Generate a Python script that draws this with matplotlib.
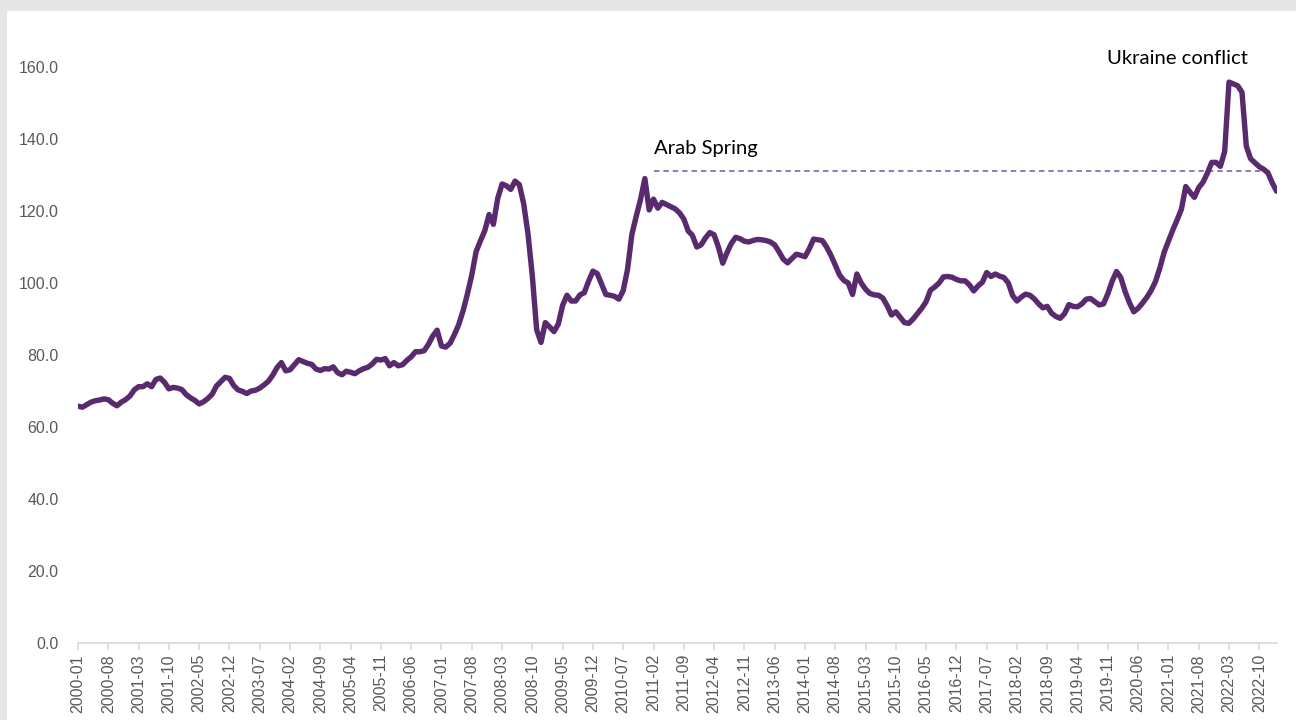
import numpy as np
import pandas as pd
import matplotlib
matplotlib.use("Agg")
import matplotlib.pyplot as plt
from matplotlib.patches import Rectangle

# monthly index values, 2000-01 .. 2023-02
y2000 = [65.8, 65.5, 66.2, 66.9, 67.3, 67.5, 67.8, 67.6, 66.6, 65.9, 66.9, 67.6]
y2001 = [68.6, 70.3, 71.2, 71.2, 72.0, 71.2, 73.2, 73.6, 72.4, 70.6, 71.0, 70.8]
y2002 = [70.4, 69.0, 68.1, 67.4, 66.4, 67.0, 67.9, 69.1, 71.4, 72.6, 73.8, 73.5]
y2003 = [71.5, 70.3, 69.9, 69.3, 70.0, 70.2, 70.8, 71.7, 72.7, 74.4, 76.5, 77.9]
y2004 = [75.6, 75.9, 77.3, 78.7, 78.2, 77.7, 77.4, 76.1, 75.7, 76.2, 76.1, 76.7]
y2005 = [75.1, 74.5, 75.5, 75.2, 74.8, 75.6, 76.2, 76.6, 77.5, 78.8, 78.6, 79.0]
y2006 = [77.0, 77.9, 77.0, 77.3, 78.5, 79.5, 80.9, 80.9, 81.2, 83.0, 85.3, 86.9]
y2007 = [82.5, 82.2, 83.3, 85.7, 88.5, 92.3, 97.0, 102.2, 108.7, 111.7, 114.5, 119.0]
y2008 = [116.3, 123.5, 127.5, 127.0, 126.0, 128.3, 127.3, 122.0, 113.6, 101.9, 87.0, 83.5]
y2009 = [89.0, 87.8, 86.5, 88.6, 93.8, 96.6, 95.0, 95.0, 96.7, 97.3, 100.5, 103.3]
y2010 = [102.6, 99.7, 96.8, 96.6, 96.3, 95.5, 97.9, 103.8, 113.5, 118.5, 123.2, 129.0]
y2011 = [120.3, 123.3, 120.8, 122.4, 121.8, 121.2, 120.6, 119.5, 117.8, 114.5, 113.2, 110.0]
y2012 = [110.6, 112.5, 114.0, 113.4, 110.0, 105.5, 108.5, 111.0, 112.7, 112.3, 111.6, 111.4]
y2013 = [111.8, 112.1, 112.0, 111.8, 111.4, 110.6, 108.7, 106.6, 105.6, 106.8, 108.0, 107.7]
y2014 = [107.3, 109.5, 112.2, 112.0, 111.8, 110.0, 107.7, 105.0, 102.2, 100.7, 100.0, 96.8]
y2015 = [102.5, 100.0, 98.3, 97.1, 96.7, 96.6, 95.8, 93.7, 91.1, 92.0, 90.5, 89.0]
y2016 = [88.8, 90.0, 91.5, 93.0, 94.8, 98.0, 98.9, 100.0, 101.7, 101.8, 101.6, 101.0]
y2017 = [100.6, 100.6, 99.5, 97.8, 99.2, 100.2, 102.9, 101.8, 102.5, 101.9, 101.5, 100.0]
y2018 = [96.5, 95.0, 96.1, 96.9, 96.6, 95.6, 94.2, 93.1, 93.5, 91.6, 90.7, 90.2]
y2019 = [91.5, 94.0, 93.5, 93.4, 94.2, 95.5, 95.7, 94.8, 93.9, 94.2, 97.0, 100.5]
y2020 = [103.2, 101.5, 97.6, 94.5, 92.0, 93.0, 94.4, 96.0, 97.9, 100.4, 104.1, 108.5]
y2021 = [111.6, 114.7, 117.5, 120.5, 126.8, 125.2, 123.8, 126.5, 128.0, 130.5, 133.5, 133.5]
y2022 = [132.4, 136.5, 155.8, 155.3, 154.8, 153.0, 138.0, 134.5, 133.4, 132.3, 131.6, 130.6]
y2023 = [127.8, 125.5]

arab_spring_level = 131.1
arab_spring_start = "2011-02"

values = (y2000 + y2001 + y2002 + y2003 + y2004 + y2005 + y2006 + y2007 + y2008
          + y2009 + y2010 + y2011 + y2012 + y2013 + y2014 + y2015 + y2016 + y2017
          + y2018 + y2019 + y2020 + y2021 + y2022 + y2023)
months = list(pd.date_range("2000-01", periods=len(values), freq="MS").strftime("%Y-%m"))
x = np.arange(len(values))

fig = plt.figure(figsize=(12.96, 7.2), dpi=100, facecolor="#e6e6e6")
fig.add_artist(Rectangle((7 / 1296, 0), 1, 709 / 720, transform=fig.transFigure,
                         facecolor="white", edgecolor="none", zorder=-5))
ax = fig.add_axes([78 / 1296, 1 - 643 / 720, (1276.6 - 78) / 1296, 612 / 720])
ax.set_zorder(2)
ax.set_facecolor("none")

ax.plot(x, values, color="#5a2a6e", linewidth=3.9, solid_joinstyle="round",
        solid_capstyle="round", zorder=3)

i0 = months.index(arab_spring_start)
ax.plot([i0, len(values) - 2], [arab_spring_level, arab_spring_level],
        color="#8c6bb8", linewidth=1.3, linestyle=(0, (3, 2.2)), zorder=2)

ax.text(i0, 137.4, "Arab Spring", fontsize=14.6, family="Lato", color="black",
        ha="left", va="center")
ax.text(237.8, 162.3, "Ukraine conflict", fontsize=14.6, family="Lato", color="black",
        ha="left", va="center", clip_on=False)

ax.set_xlim(0, len(values) - 1)
ax.set_ylim(0, 170)
ax.set_yticks(np.arange(0, 161, 20))
ax.set_yticklabels([f"{v:.1f}" for v in np.arange(0, 161, 20)])
ax.set_xticks(x[::7])
ax.set_xticklabels(months[::7], rotation=90)

for s in ["left", "top", "right"]:
    ax.spines[s].set_visible(False)
ax.spines["bottom"].set_color("#d9d9d9")
ax.spines["bottom"].set_linewidth(1.2)
ax.tick_params(axis="y", length=0, pad=14, labelsize=11.5, labelcolor="#595959")
ax.tick_params(axis="x", length=5, width=1.2, color="#d9d9d9", pad=3,
               labelsize=11.5, labelcolor="#595959")
for lab in ax.get_xticklabels() + ax.get_yticklabels():
    lab.set_family("Liberation Sans")

fig.savefig("out.png", dpi=100, facecolor=fig.get_facecolor())
